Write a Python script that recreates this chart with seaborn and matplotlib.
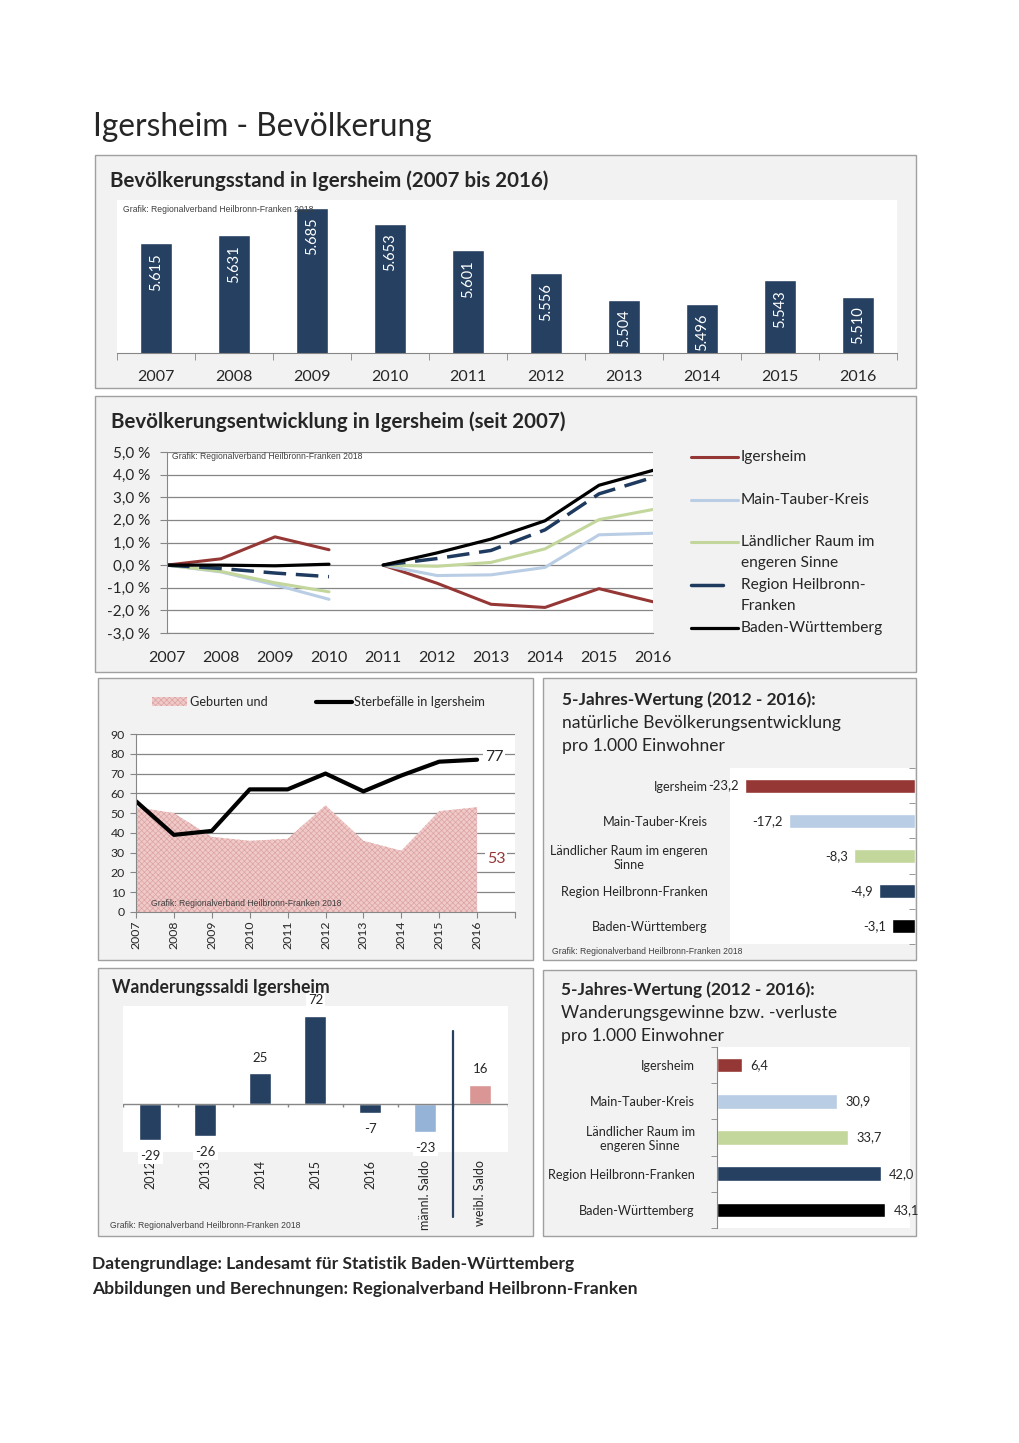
import numpy as np
import matplotlib
matplotlib.use("Agg")
import matplotlib.pyplot as plt
import seaborn as sns
from matplotlib.patches import Rectangle, Patch
from matplotlib.lines import Line2D

# ---- data ----
years = list(range(2007, 2017))
pop = [5615, 5631, 5685, 5653, 5601, 5556, 5504, 5496, 5543, 5510]

dev_years_a = [2007, 2008, 2009, 2010]
dev_years_b = [2011, 2012, 2013, 2014, 2015, 2016]
ig_a = [0, 0.28, 1.25, 0.68]
ig_b = [0, -0.80, -1.73, -1.87, -1.04, -1.62]
mtk_a = [0, -0.30, -0.87, -1.51]
mtk_b = [0, -0.46, -0.43, -0.10, 1.34, 1.41]
lr_a = [0, -0.28, -0.78, -1.18]
lr_b = [0, -0.05, 0.12, 0.72, 2.01, 2.46]
rhf_a = [0, -0.15, -0.35, -0.51]
rhf_b = [0, 0.29, 0.65, 1.56, 3.15, 3.88]
bw_a = [0, 0.00, -0.03, 0.04]
bw_b = [0, 0.54, 1.15, 1.96, 3.53, 4.19]

births = [53, 50, 38, 36, 37, 54, 36, 31, 51, 53]
deaths = [56, 39, 41, 62, 62, 70, 61, 69, 76, 77]

regions = ["Igersheim", "Main-Tauber-Kreis", "Ländlicher Raum im engeren Sinne",
           "Region Heilbronn-Franken", "Baden-Württemberg"]
natural = [-23.2, -17.2, -8.3, -4.9, -3.1]
migration = [6.4, 30.9, 33.7, 42.0, 43.1]

saldo_cats = ["2012", "2013", "2014", "2015", "2016", "männl. Saldo", "weibl. Saldo"]
saldo_vals = [-29, -26, 25, 72, -7, -23, 16]

RED = "#953735"
LBLUE = "#b9cde5"
GREEN = "#c3d69b"
NAVY = "#254061"
GRID = "#868686"
PINK_FACE = "#efcac9"
PINK_HATCH = "#dca3a2"
region_colors = [RED, LBLUE, GREEN, NAVY, "#000000"]
WM = "Grafik: Regionalverband Heilbronn-Franken 2018"

sns.set_style("white")
plt.rcParams["font.family"] = ["Lato", "DejaVu Sans"]
plt.rcParams["hatch.linewidth"] = 0.5

W, H = 1020, 1443
fig = plt.figure(figsize=(W / 100, H / 100), dpi=100)


def add_ax(x0, y0, x1, y1):
    return fig.add_axes([x0 / W, 1 - y1 / H, (x1 - x0) / W, (y1 - y0) / H])


def ftext(x, y, s, **kw):
    kw.setdefault("va", "center")
    fig.text(x / W, 1 - y / H, s, **kw)


def de(v):
    return f"{v:.1f}".replace(".", ",")


def wm(x, y):
    ftext(x, y, WM, family="Liberation Sans", fontsize=6.2, color="#404040")


for (x0, y0, x1, y1) in [(95, 155, 916, 388), (95, 396, 916, 672), (98, 678, 533, 960),
                         (543, 678, 916, 960), (98, 968, 533, 1236), (543, 970, 916, 1236)]:
    fig.add_artist(Rectangle((x0 / W, 1 - y1 / H), (x1 - x0) / W, (y1 - y0) / H,
                             transform=fig.transFigure, fc="#f2f2f2", ec="#a0a0a0",
                             lw=1, zorder=-5))

ftext(93, 127, "Igersheim - Bevölkerung", fontsize=22.8)

# ---- panel 1: population ----
ftext(110, 181, "Bevölkerungsstand in Igersheim (2007 bis 2016)", fontsize=14.8, weight="bold")
ax1 = add_ax(117, 200, 897, 353)
sns.barplot(x=[str(y) for y in years], y=pop, color=NAVY, width=0.4, saturation=1, ax=ax1)
ax1.set_ylim(5400, 5700)
ax1.set_xlim(-0.5, 9.5)
ax1.set_yticks([])
for s in ["top", "right", "left"]:
    ax1.spines[s].set_visible(False)
ax1.spines["bottom"].set_color(GRID)
ax1.set_xticks(np.arange(-0.5, 10, 1), minor=True)
ax1.tick_params(axis="x", which="major", length=0, pad=12, labelsize=11.5)
ax1.tick_params(axis="x", which="minor", length=5, color=GRID, bottom=True)
for i, v in enumerate(pop):
    ax1.annotate(f"{v:,}".replace(",", "."), (i, v), xytext=(0, -7), textcoords="offset points",
                 rotation=90, ha="center", va="top", color="white", fontsize=10.5)
ax1.set_xlabel("")
wm(123, 209)

# ---- panel 2: development ----
ftext(111, 422, "Bevölkerungsentwicklung in Igersheim (seit 2007)", fontsize=14.8, weight="bold")
ax2 = add_ax(167, 452, 653, 633)
series = [
    ("Igersheim", ig_a, ig_b, RED, 2.2, "-"),
    ("Main-Tauber-Kreis", mtk_a, mtk_b, LBLUE, 2.2, "-"),
    ("Ländlicher Raum im\nengeren Sinne", lr_a, lr_b, GREEN, 2.2, "-"),
    ("Region Heilbronn-\nFranken", rhf_a, rhf_b, "#1f3a5f", 2.5, (0, (6.5, 2.8))),
    ("Baden-Württemberg", bw_a, bw_b, "#000000", 2.3, "-"),
]
for name, a, b, c, lw, ls in series:
    sns.lineplot(x=dev_years_a, y=a, color=c, lw=lw, linestyle=ls, ax=ax2)
    sns.lineplot(x=dev_years_b, y=b, color=c, lw=lw, linestyle=ls, ax=ax2)
ax2.set_xlim(2007, 2016)
ax2.set_ylim(-3, 5)
ax2.set_yticks(np.arange(-3, 6))
ax2.set_yticklabels([f"{v:.1f} %".replace(".", ",") for v in np.arange(-3, 6)])
ax2.set_xticks(years)
ax2.set_xticklabels([str(y) for y in years])
ax2.grid(axis="y", color=GRID, lw=0.9)
ax2.set_axisbelow(True)
for s in ["top", "right"]:
    ax2.spines[s].set_visible(False)
ax2.spines["left"].set_color(GRID)
ax2.spines["bottom"].set_color(GRID)
ax2.tick_params(axis="y", length=5, color=GRID, left=True, pad=7, labelsize=11)
ax2.tick_params(axis="x", length=0, pad=13, labelsize=11.5)
ax2.set_xlabel("")
ax2.set_ylabel("")
wm(172, 457)

leg_rows = [(457, ["Igersheim"]), (500, ["Main-Tauber-Kreis"]),
            (542, ["Ländlicher Raum im", "engeren Sinne"]),
            (585, ["Region Heilbronn-", "Franken"]), (628, ["Baden-Württemberg"])]
for (y, lines), (name, a, b, c, lw, ls) in zip(leg_rows, series):
    x_end = 723 if ls != "-" else 738
    fig.add_artist(Line2D([691 / W, x_end / W], [1 - y / H] * 2, transform=fig.transFigure,
                          color=c, lw=lw))
    for k, t in enumerate(lines):
        ftext(741, y + 21 * k, t, fontsize=11.2)

# ---- panel 3: births and deaths ----
ax3 = add_ax(136, 734, 515, 912)
ax3.fill_between(years, births, 0, facecolor=PINK_FACE, hatch="xxxxxx", edgecolor=PINK_HATCH, lw=0)
sns.lineplot(x=years, y=deaths, color="black", lw=3, ax=ax3)
ax3.set_xlim(2007, 2017)
ax3.set_ylim(0, 90)
ax3.set_yticks(np.arange(0, 91, 10))
ax3.set_xticks(list(range(2007, 2018)))
ax3.set_xticklabels([str(y) for y in years] + [""], rotation=90)
ax3.grid(axis="y", color=GRID, lw=0.9)
ax3.set_axisbelow(True)
for s in ["top", "right"]:
    ax3.spines[s].set_visible(False)
ax3.spines["left"].set_color(GRID)
ax3.spines["bottom"].set_color(GRID)
ax3.tick_params(axis="y", length=4, color=GRID, left=True, pad=4, labelsize=8.8)
ax3.tick_params(axis="x", length=4, color=GRID, bottom=True, pad=2, labelsize=8.8)
ax3.set_xlabel("")
ax3.set_ylabel("")
ax3.text(2016.45, 78.5, str(deaths[-1]), fontsize=11.5, ha="center", va="center",
         bbox=dict(fc="white", ec="none", pad=1))
ax3.text(2016.5, 27, str(births[-1]), fontsize=11.5, color=RED, ha="center", va="center",
         bbox=dict(fc="white", ec="none", pad=1))
fig.legend(handles=[Patch(facecolor=PINK_FACE, hatch="xxxxxx", edgecolor=PINK_HATCH, lw=0),
                    Line2D([], [], color="black", lw=3)],
           labels=["Geburten und", "Sterbefälle in Igersheim"],
           loc="center left", bbox_to_anchor=(140 / W, 1 - 702 / H), ncol=2, frameon=False,
           fontsize=9.2, handlelength=2.8, handleheight=0.6, handletextpad=0.2, columnspacing=3.8)
wm(151, 904)

# ---- panel 4: natural development ----
ftext(562, 700, "5-Jahres-Wertung (2012 - 2016):", fontsize=12.4, weight="bold")
ftext(562, 723, "natürliche Bevölkerungsentwicklung", fontsize=12.6)
ftext(562, 746, "pro 1.000 Einwohner", fontsize=12.6)
ax4 = add_ax(730, 768, 915, 944)
sns.barplot(x=natural, y=regions, hue=regions, palette=region_colors, orient="h", width=0.4,
            saturation=1, legend=False, ax=ax4)
ax4.set_xlim(-25.2, 0)
ax4.set_ylim(4.5, -0.5)
ax4.set_xticks([])
ax4.set_yticks(range(5))
ax4.set_yticklabels(["Igersheim", "Main-Tauber-Kreis", "Ländlicher Raum im engeren\nSinne",
                     "Region Heilbronn-Franken", "Baden-Württemberg"])
for lab in ax4.get_yticklabels():
    lab.set_multialignment("center")
ax4.set_yticks(np.arange(-0.5, 5, 1), minor=True)
ax4.tick_params(axis="y", which="major", length=0, pad=16, labelsize=9.1)
ax4.tick_params(axis="y", which="minor", left=False, right=True, length=4, color=GRID,
                direction="in")
for s in ax4.spines.values():
    s.set_visible(False)
for i, v in enumerate(natural):
    ax4.annotate(de(v), (v, i), xytext=(-4.5, 0), textcoords="offset points",
                 ha="right", va="center", fontsize=9.4, annotation_clip=False)
ax4.set_xlabel("")
ax4.set_ylabel("")
wm(552, 951)

# ---- panel 5: migration balances ----
ftext(112, 988, "Wanderungssaldi Igersheim", fontsize=12.7, weight="bold")
ax5 = add_ax(123, 1006, 508, 1152)
sns.barplot(x=saldo_cats, y=saldo_vals, hue=saldo_cats,
            palette=[NAVY] * 5 + ["#95b3d7", "#d99694"], width=0.4, saturation=1,
            legend=False, ax=ax5)
ax5.set_ylim(-39, 80)
ax5.set_xlim(-0.5, 6.5)
ax5.set_yticks([])
for s in ax5.spines.values():
    s.set_visible(False)
ax5.axhline(0, color=GRID, lw=1)
ax5.vlines(np.arange(-0.5, 7, 1), -2.5, 0, color=GRID, lw=1)
ax5.set_xticks(range(7))
ax5.set_xticklabels(saldo_cats, rotation=90)
ax5.tick_params(axis="x", length=0, pad=6, labelsize=9)
ax5.axvline(5.5, ymin=-0.445, ymax=0.829, color=NAVY, lw=1.6, clip_on=False)
for i, v in enumerate(saldo_vals):
    ax5.annotate(str(v), (i, v), xytext=(0, 11.5 if v > 0 else -11.5),
                 textcoords="offset points", ha="center", va="center", fontsize=9.5,
                 annotation_clip=False, bbox=dict(fc="white", ec="none", pad=1.5))
ax5.set_xlabel("")
ax5.set_ylabel("")
wm(110, 1226)

# ---- panel 6: migration per 1000 ----
ftext(561, 990, "5-Jahres-Wertung (2012 - 2016):", fontsize=12.4, weight="bold")
ftext(561, 1013, "Wanderungsgewinne bzw. -verluste", fontsize=12.6)
ftext(561, 1036, "pro 1.000 Einwohner", fontsize=12.6)
ax6 = add_ax(717, 1047, 910, 1228)
sns.barplot(x=migration, y=regions, hue=regions, palette=region_colors, orient="h", width=0.4,
            saturation=1, legend=False, ax=ax6)
ax6.set_xlim(0, 49.5)
ax6.set_ylim(4.5, -0.5)
ax6.set_xticks([])
ax6.set_yticks(range(5))
ax6.set_yticklabels(["Igersheim", "Main-Tauber-Kreis", "Ländlicher Raum im\nengeren Sinne",
                     "Region Heilbronn-Franken", "Baden-Württemberg"])
for lab in ax6.get_yticklabels():
    lab.set_multialignment("center")
ax6.set_yticks(np.arange(-0.5, 5, 1), minor=True)
ax6.tick_params(axis="y", which="major", length=0, pad=16, labelsize=9.1)
ax6.tick_params(axis="y", which="minor", left=True, length=4, color=GRID)
for s in ["top", "right", "bottom"]:
    ax6.spines[s].set_visible(False)
ax6.spines["left"].set_color(GRID)
for i, v in enumerate(migration):
    ax6.annotate(de(v), (v, i), xytext=(6, 0), textcoords="offset points",
                 ha="left", va="center", fontsize=9.3, annotation_clip=False)
ax6.set_xlabel("")
ax6.set_ylabel("")

# ---- footer ----
ftext(92, 1264, "Datengrundlage: Landesamt für Statistik Baden-Württemberg", fontsize=12.6,
      weight="bold")
ftext(92, 1289, "Abbildungen und Berechnungen: Regionalverband Heilbronn-Franken", fontsize=12.6,
      weight="bold")

fig.savefig("out.png", dpi=100, facecolor="white")
